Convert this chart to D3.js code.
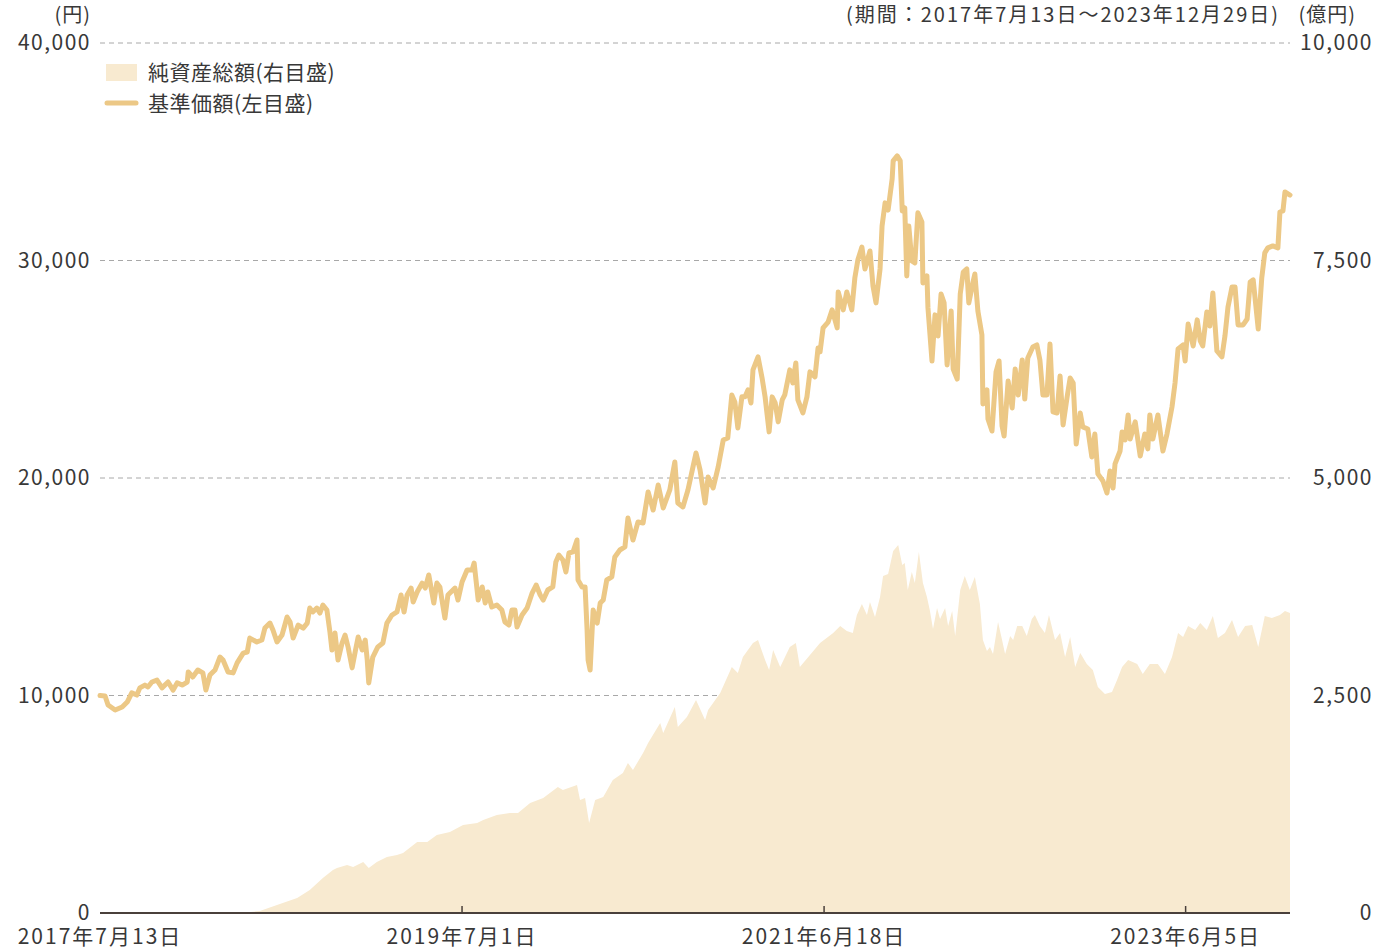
<!DOCTYPE html>
<html lang="ja">
<head>
<meta charset="UTF-8">
<title>基準価額・純資産総額の推移</title>
<script src="https://d3js.org/d3.v7.min.js"></script>
<style>
  body { margin: 0; background: #fff; }
  svg text { font-family: "Noto Sans CJK JP", "Noto Sans", sans-serif; fill: #383838; }
</style>
</head>
<body>
<svg width="1376" height="951"></svg>
<script>
// data: [days since 2017-07-13, value]
const startDate = new Date(2017, 6, 13);
const endDate = new Date(2023, 11, 29);

// 基準価額 (円, left axis)
const navSeries = [
  [0,10000],[10,9980],[16,9560],[30,9330],[44,9470],[54,9700],[63,10120],[73,10020],[79,10350],[89,10480],
  [95,10390],[103,10620],[113,10710],[123,10350],[135,10620],[145,10250],[153,10580],[163,10480],[173,10620],[175,11080],
  [184,10850],[194,11170],[204,11040],[210,10250],[218,10940],[228,11170],[238,11770],[244,11630],[254,11080],[264,11040],
  [272,11500],[284,11950],[292,12000],[297,12640],[311,12460],[321,12550],[327,13100],[337,13330],[343,13010],[351,12460],
  [361,12780],[371,13610],[377,13380],[383,12640],[393,13240],[403,13100],[411,13330],[416,14020],[422,13840],[430,14020],
  [436,13790],[442,14160],[450,13930],[456,12920],[460,12090],[466,12870],[472,11630],[480,12410],[486,12780],[492,12230],
  [500,11270],[506,12000],[512,12690],[520,12090],[526,12550],[530,11630],[533,10580],[541,11770],[551,12230],[561,12410],
  [569,13330],[579,13700],[589,13840],[597,14620],[603,13840],[609,14620],[617,14940],[621,14300],[629,14760],[639,15170],
  [645,14940],[652,15540],[662,14250],[668,15170],[674,14990],[684,13560],[690,14620],[704,14940],[710,14390],[718,15220],
  [728,15770],[738,15770],[742,16090],[750,14390],[758,14990],[764,14250],[769,14760],[777,14070],[787,14160],[797,13930],
  [803,13380],[811,13240],[817,13930],[823,13930],[827,13150],[837,13700],[847,14020],[857,14710],[865,15080],[873,14620],
  [879,14390],[888,14850],[898,14990],[904,16140],[910,16460],[918,16230],[924,15680],[930,16550],[938,16600],[946,17150],
  [948,15310],[956,14990],[962,14990],[966,13010],[968,11630],[972,11170],[978,13930],[986,13330],[992,14250],[998,14390],
  [1005,15310],[1015,15450],[1021,16370],[1031,16690],[1041,16830],[1047,18160],[1057,17150],[1067,17980],[1077,17930],[1087,19360],
  [1097,18530],[1107,19680],[1117,18620],[1130,19450],[1140,20740],[1146,18850],[1156,18670],[1166,19450],[1176,20510],[1182,21150],
  [1190,20370],[1200,18850],[1206,20050],[1216,19540],[1226,20510],[1236,21750],[1245,21840],[1253,23820],[1259,23500],[1265,22300],
  [1273,23730],[1279,23730],[1285,24050],[1291,23450],[1295,24970],[1305,25570],[1313,24600],[1319,23730],[1327,22120],[1333,23730],
  [1339,23450],[1345,22580],[1353,23590],[1358,23820],[1368,24970],[1374,24370],[1380,25290],[1384,23590],[1394,22990],[1402,23730],
  [1408,24880],[1418,24650],[1424,25980],[1428,25800],[1434,26900],[1444,27170],[1452,27730],[1462,26900],[1464,28550],[1474,27730],
  [1481,28550],[1491,27730],[1497,29200],[1503,30030],[1511,30620],[1517,29610],[1527,30440],[1533,28830],[1539,28050],[1547,29610],
  [1551,31590],[1557,32650],[1563,32320],[1571,33750],[1573,34580],[1581,34810],[1587,34580],[1591,32280],[1596,32420],[1600,29290],
  [1604,31590],[1610,29980],[1616,29890],[1622,32190],[1630,31770],[1632,28970],[1640,29290],[1642,27820],[1650,25380],[1656,27500],
  [1662,26530],[1668,28460],[1674,28050],[1680,25200],[1688,27680],[1692,25010],[1700,24550],[1706,28460],[1712,29470],[1719,29610],
  [1723,28050],[1731,28970],[1735,29380],[1741,27680],[1749,26580],[1751,23400],[1759,24050],[1761,22710],[1769,22160],[1777,24880],
  [1783,25380],[1789,22390],[1793,21930],[1801,24460],[1809,23220],[1815,25010],[1821,23820],[1829,25430],[1834,23630],[1840,25520],
  [1850,26020],[1858,26120],[1864,25430],[1870,23820],[1878,23820],[1884,26160],[1890,23040],[1898,22990],[1904,24690],[1910,22440],
  [1918,23730],[1924,24600],[1930,24370],[1936,21560],[1944,22990],[1949,22350],[1959,22250],[1967,20970],[1973,22020],[1979,20190],
  [1989,19860],[1997,19310],[2003,20320],[2009,19540],[2013,20650],[2023,21240],[2027,22120],[2033,21750],[2039,22900],[2043,21790],
  [2053,22580],[2063,21010],[2072,22020],[2078,21340],[2082,22900],[2088,21790],[2098,22900],[2108,21240],[2116,22020],[2126,23270],
  [2132,24370],[2138,25930],[2148,26120],[2152,25380],[2158,27080],[2168,26070],[2176,27270],[2182,26300],[2187,26070],[2195,27630],
  [2201,26990],[2207,28510],[2215,25840],[2225,25570],[2231,26530],[2237,27860],[2245,28780],[2251,28780],[2257,27040],[2267,27040],
  [2275,27310],[2281,29010],[2287,29110],[2297,26850],[2304,29200],[2310,30350],[2316,30580],[2326,30670],[2336,30580],[2340,32230],
  [2346,32280],[2350,33150],[2360,33010]
];

// 純資産総額 (億円, right axis)
const aumSeries = [
  [0,0],[278,0],[317,23],[351,92],[391,172],[416,264],[442,402],[462,494],[470,517],[490,552],
  [502,529],[522,586],[533,517],[549,586],[569,644],[589,667],[601,690],[629,816],[649,816],[668,897],
  [694,931],[720,1011],[748,1034],[760,1069],[787,1126],[813,1149],[829,1149],[853,1264],[879,1322],[908,1448],
  [918,1414],[946,1471],[952,1299],[962,1322],[970,1034],[982,1299],[998,1333],[1017,1529],[1037,1609],[1047,1724],
  [1057,1644],[1077,1839],[1087,1954],[1111,2184],[1117,2069],[1140,2368],[1146,2138],[1164,2253],[1182,2448],[1200,2218],
  [1206,2333],[1230,2529],[1253,2828],[1265,2759],[1275,2942],[1295,3103],[1305,3138],[1319,2908],[1327,2793],[1335,3023],
  [1349,2828],[1368,3057],[1380,3103],[1388,2828],[1408,2965],[1428,3103],[1454,3218],[1468,3299],[1481,3241],[1493,3218],
  [1501,3425],[1511,3552],[1521,3425],[1527,3575],[1537,3402],[1547,3632],[1553,3873],[1563,3896],[1573,4161],[1583,4230],
  [1591,4000],[1596,4023],[1602,3713],[1610,3919],[1616,3793],[1624,4149],[1632,3793],[1640,3632],[1646,3471],[1652,3264],
  [1660,3506],[1666,3379],[1676,3506],[1682,3299],[1690,3471],[1696,3184],[1706,3713],[1715,3873],[1725,3713],[1735,3862],
  [1745,3552],[1751,3138],[1759,3011],[1765,3057],[1771,2977],[1781,3345],[1789,3138],[1795,2977],[1805,3184],[1811,3138],
  [1819,3299],[1829,3299],[1838,3184],[1848,3379],[1854,3425],[1864,3299],[1874,3218],[1882,3425],[1894,3138],[1904,3218],
  [1914,2942],[1924,3172],[1934,2828],[1944,2988],[1957,2862],[1969,2793],[1979,2598],[1993,2517],[2007,2540],[2017,2678],
  [2027,2828],[2039,2908],[2057,2862],[2068,2747],[2082,2862],[2098,2862],[2112,2747],[2126,2942],[2138,3218],[2148,3172],
  [2158,3299],[2172,3253],[2182,3333],[2195,3253],[2207,3414],[2217,3161],[2231,3218],[2245,3368],[2257,3172],[2271,3299],
  [2285,3310],[2297,3057],[2310,3414],[2324,3391],[2340,3425],[2350,3471],[2360,3448]
];

const leftTicks = [0, 10000, 20000, 30000, 40000];
const rightTicks = [0, 2500, 5000, 7500, 10000];
const xTickDates = [new Date(2017, 6, 13), new Date(2019, 6, 1), new Date(2021, 5, 18), new Date(2023, 5, 5)];
const xTickLabels = ["2017年7月13日", "2019年7月1日", "2021年6月18日", "2023年6月5日"];
const legendLabels = ["純資産総額(右目盛)", "基準価額(左目盛)"];

const lineColor = "#ecc886";
const areaColor = "#f8ead0";

const svg = d3.select("svg");
const plot = { left: 100, right: 1290, top: 43, bottom: 913 };

const x = d3.scaleTime().domain([startDate, endDate]).range([plot.left, plot.right]);
const yL = d3.scaleLinear().domain([0, 40000]).range([plot.bottom, plot.top]);
const yR = d3.scaleLinear().domain([0, 10000]).range([plot.bottom, plot.top]);
const toDate = d => d3.timeDay.offset(startDate, d);

// gridlines
svg.append("g")
  .selectAll("line")
  .data(leftTicks.filter(d => d > 0))
  .join("line")
    .attr("x1", plot.left).attr("x2", plot.right)
    .attr("y1", d => yL(d)).attr("y2", d => yL(d))
    .attr("stroke", "#a8a8a8")
    .attr("stroke-width", 1)
    .attr("stroke-dasharray", "5,4");

// net assets area
const area = d3.area()
  .x(d => x(toDate(d[0])))
  .y0(plot.bottom)
  .y1(d => yR(d[1]));
svg.append("path")
  .datum(aumSeries)
  .attr("d", area)
  .attr("fill", areaColor);

// NAV line
const line = d3.line()
  .x(d => x(toDate(d[0])))
  .y(d => yL(d[1]));
svg.append("path")
  .datum(navSeries)
  .attr("d", line)
  .attr("fill", "none")
  .attr("stroke", lineColor)
  .attr("stroke-width", 5)
  .attr("stroke-linejoin", "round")
  .attr("stroke-linecap", "round");

// x axis
svg.append("line")
  .attr("x1", plot.left).attr("x2", plot.right)
  .attr("y1", plot.bottom).attr("y2", plot.bottom)
  .attr("stroke", "#4a403b")
  .attr("stroke-width", 2);

svg.append("g")
  .selectAll("line")
  .data(xTickDates.slice(1))
  .join("line")
    .attr("x1", d => x(d)).attr("x2", d => x(d))
    .attr("y1", plot.bottom).attr("y2", plot.bottom - 7)
    .attr("stroke", "#4a403b")
    .attr("stroke-width", 1.5);

svg.append("g")
  .selectAll("text")
  .data(xTickDates)
  .join("text")
    .attr("x", d => x(d))
    .attr("y", 944)
    .attr("text-anchor", "middle")
    .attr("font-size", 21)
    .attr("letter-spacing", 2)
    .text((d, i) => xTickLabels[i]);

// y axes
const fmt = d3.format(",");
svg.append("g")
  .selectAll("text")
  .data(leftTicks)
  .join("text")
    .attr("x", 91)
    .attr("y", d => yL(d) + 7)
    .attr("text-anchor", "end")
    .attr("font-size", 21)
    .attr("letter-spacing", 1.5)
    .text(d => fmt(d));

svg.append("g")
  .selectAll("text")
  .data(rightTicks)
  .join("text")
    .attr("x", 1373)
    .attr("y", d => yR(d) + 7)
    .attr("text-anchor", "end")
    .attr("font-size", 21)
    .attr("letter-spacing", 1.5)
    .text(d => fmt(d));

// units and period
svg.append("text").attr("x", 91).attr("y", 22).attr("text-anchor", "end")
  .attr("font-size", 20).attr("letter-spacing", 1).text("(円)");
svg.append("text").attr("x", 1356).attr("y", 22).attr("text-anchor", "end")
  .attr("font-size", 20).attr("letter-spacing", 1).text("(億円)");
svg.append("text").attr("x", 1280).attr("y", 22).attr("text-anchor", "end")
  .attr("font-size", 20).attr("letter-spacing", 2).text("(期間：2017年7月13日～2023年12月29日)");

// legend
const legend = svg.append("g");
legend.append("rect")
  .attr("x", 106).attr("y", 64).attr("width", 31).attr("height", 17)
  .attr("fill", areaColor);
legend.append("line")
  .attr("x1", 107).attr("x2", 136).attr("y1", 103).attr("y2", 103)
  .attr("stroke", lineColor).attr("stroke-width", 5).attr("stroke-linecap", "round");
legend.selectAll("text")
  .data(legendLabels)
  .join("text")
    .attr("x", 148)
    .attr("y", (d, i) => 80 + i * 31)
    .attr("font-size", 21)
    .attr("letter-spacing", 0.5)
    .text(d => d);
</script>
</body>
</html>
